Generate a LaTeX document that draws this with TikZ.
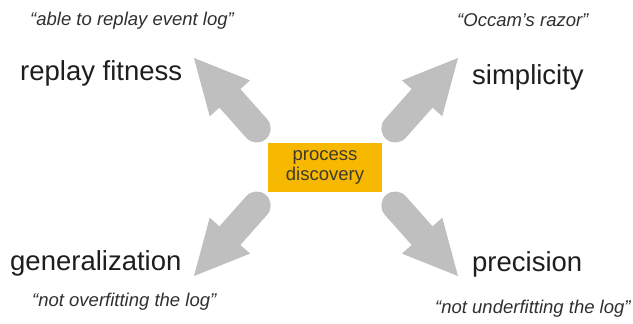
\documentclass[tikz,border=0pt]{standalone}
\usepackage{fontspec}
\setmainfont{Liberation Sans}
\usetikzlibrary{calc}

\definecolor{arrowgray}{HTML}{BFBFBF}
\definecolor{boxgold}{HTML}{F6B800}
\definecolor{boxtext}{HTML}{3E3A2C}
\definecolor{labeltext}{HTML}{1E1E1E}
\definecolor{quotetext}{HTML}{303030}

\tikzset{
  quality/.style={inner sep=0pt, anchor=base west, text=labeltext,
    font=\fontsize{27.5}{30}\selectfont},
  motto/.style={inner sep=0pt, anchor=base west, text=quotetext,
    font=\fontsize{18.5}{20}\selectfont\itshape},
  centerbox/.style={fill=boxgold, draw=none, minimum width=114pt, minimum height=49pt,
    inner sep=0pt, align=center, text=boxtext,
    font=\fontsize{18.5}{20}\selectfont},
  shaft/.style={draw=arrowgray, line width=28pt, line cap=round},
  head/.style={fill=arrowgray, draw=none}
}

% fat arrow: round-capped shaft from #1 and a triangular head ending at #2
\newcommand{\fatarrow}[2]{%
  \coordinate (#2-base) at ($(#2)!54pt!(#1)$);
  \draw[shaft] (#1) -- ($(#2-base)!1pt!(#2)$);
  \fill[head] (#2) -- ($(#2-base)!27pt!90:(#2)$) -- ($(#2-base)!27pt!-90:(#2)$) -- cycle;
}

\begin{document}
\begin{tikzpicture}[x=1pt,y=-1pt]
  \useasboundingbox (0,0) rectangle (633,324);
  \fill[white] (0,0) rectangle (633,324);

  % central activity
  \node[centerbox] (pd) at (325,167.5) {process\\discovery};

  % arrow ends
  \coordinate (ulTail) at (256.7,128.5);
  \coordinate (ulTip)  at (194,58);
  \coordinate (urTail) at (395.3,128.5);
  \coordinate (urTip)  at (458,58);
  \coordinate (llTail) at (256.7,205.5);
  \coordinate (llTip)  at (194,276);
  \coordinate (lrTail) at (395.3,205.5);
  \coordinate (lrTip)  at (458,276);

  \fatarrow{ulTail}{ulTip}
  \fatarrow{urTail}{urTip}
  \fatarrow{llTail}{llTip}
  \fatarrow{lrTail}{lrTip}

  % quality dimensions
  \node[quality] (fit) at (20,81)  {replay fitness};
  \node[quality] (sim) at (472,84) {simplicity};
  \node[quality] (gen) at (10,270) {generalization};
  \node[quality] (pre) at (472,271) {precision};

  % informal descriptions
  \node[motto] (fitq) at (30,26)   {“able to replay event log”};
  \node[motto] (simq) at (457,27)  {“Occam’s razor”};
  \node[motto] (genq) at (32,306)  {“not overfitting the log”};
  \node[motto] (preq) at (435,313) {“not underfitting the log”};
\end{tikzpicture}
\end{document}
